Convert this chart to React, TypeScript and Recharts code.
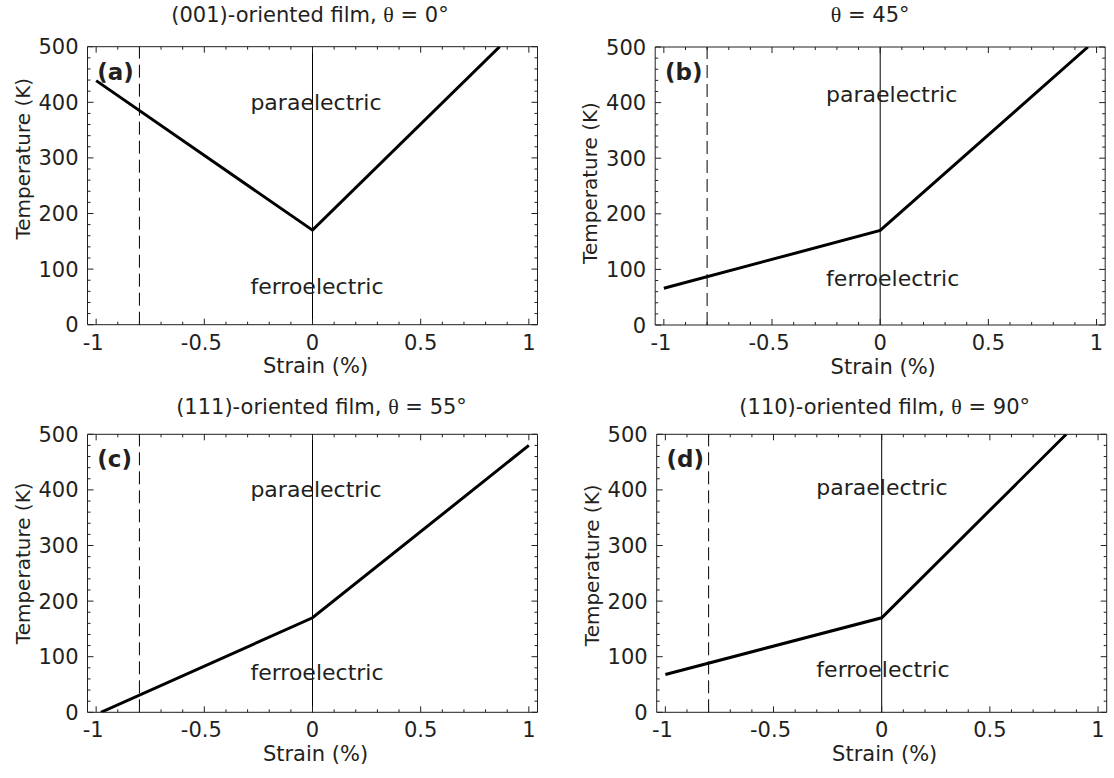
import React from 'react';
import { LineChart, Line, XAxis, YAxis, ReferenceLine, ReferenceArea, ReferenceDot } from 'recharts';

// ---------- data ----------
const xTicks = [-1, -0.9, -0.8, -0.7, -0.6, -0.5, -0.4, -0.3, -0.2, -0.1, 0, 0.1, 0.2, 0.3, 0.4, 0.5, 0.6, 0.7, 0.8, 0.9, 1];
const xMajorTicks = [-1, -0.5, 0, 0.5, 1];
const xTickLabels = ['-1', '-0.5', '0', '0.5', '1'];
const yTicks = [0, 20, 40, 60, 80, 100, 120, 140, 160, 180, 200, 220, 240, 260, 280, 300, 320, 340, 360, 380, 400, 420, 440, 460, 480, 500];
const yMajorTicks = [0, 100, 200, 300, 400, 500];
const yTickLabels = ['0', '100', '200', '300', '400', '500'];

const strainA = [-1, 0, 0.865];
const tempA = [439, 170, 500];
const strainB = [-1, 0, 0.96];
const tempB = [66, 170, 500];
const strainC = [-0.978, 0, 1];
const tempC = [0, 170, 480];
const strainD = [-1, 0, 0.853];
const tempD = [68, 170, 500];

const substrateStrain = -0.8;
const bulkStrain = 0;

const titlePrefixes = ['(001)-oriented film, ', '', '(111)-oriented film, ', '(110)-oriented film, '];
const titleSuffixes = [' = 0°', ' = 45°', ' = 55°', ' = 90°'];
const panelLetters = ['(a)', '(b)', '(c)', '(d)'];

// ---------- layout / style ----------
const FONT = '"DejaVu Sans", sans-serif';
const SERIF = '"Liberation Serif", "DejaVu Serif", serif';
const INK = '#231f20';
const X_DOMAIN: [number, number] = [-1.04, 1.04];
const Y_DOMAIN: [number, number] = [0, 500];
const CW = 557;
const CH = 389;
const PW = 450;
const PH = 278;
const YAXIS_W = 60;
const XAXIS_H = 40;

const panels = [
  { left: 0, top: 0, plotLeft: 87.5, plotTop: 46.7, titleDx: -2.5, titleY: 22, ylabShift: -27, strain: strainA, temp: tempA,
    paraX: -0.287, paraY: 386, ferroX: -0.287, ferroY: 56, letterY: 441 },
  { left: 557, top: 0, plotLeft: 98.2, plotTop: 47, titleDx: -10, titleY: 22, ylabShift: -3, strain: strainB, temp: tempB,
    paraX: -0.25, paraY: 401, ferroX: -0.25, ferroY: 71, letterY: 441 },
  { left: 0, top: 389, plotLeft: 87.5, plotTop: 45.3, titleDx: 9, titleY: 25, ylabShift: -10, strain: strainC, temp: tempC,
    paraX: -0.287, paraY: 388, ferroX: -0.287, ferroY: 58, letterY: 441 },
  { left: 557, top: 389, plotLeft: 99.7, plotTop: 45.3, titleDx: 3, titleY: 25, ylabShift: -8, strain: strainD, temp: tempD,
    paraX: -0.302, paraY: 391, ferroX: -0.302, ferroY: 64, letterY: 441 },
];

const findMajor = (list: number[], v: number) => list.findIndex((m) => Math.abs(m - v) < 1e-6);

const XTick = (props: any) => {
  const { x, y, payload } = props;
  const idx = findMajor(xMajorTicks, payload.value);
  const len = idx >= 0 ? 6 : 3;
  const shift = payload.value < 0 ? -3 : 0;
  return (
    <g>
      <line x1={x} y1={y} x2={x} y2={y - len} stroke={INK} strokeWidth={1} />
      <line x1={x} y1={y - PH} x2={x} y2={y - PH + len} stroke={INK} strokeWidth={1} />
      {idx >= 0 && (
        <text x={x + shift} y={y + 25} textAnchor="middle" fontFamily={FONT} fontSize={21} fill={INK}>
          {xTickLabels[idx]}
        </text>
      )}
    </g>
  );
};

const YTick = (props: any) => {
  const { x, y, payload } = props;
  const idx = findMajor(yMajorTicks, payload.value);
  const len = idx >= 0 ? 6 : 3;
  return (
    <g>
      <line x1={x} y1={y} x2={x + len} y2={y} stroke={INK} strokeWidth={1} />
      <line x1={x + PW} y1={y} x2={x + PW - len} y2={y} stroke={INK} strokeWidth={1} />
      {idx >= 0 && (
        <text x={x - 9} y={y} dy="0.36em" textAnchor="end" fontFamily={FONT} fontSize={21} fill={INK}>
          {yTickLabels[idx]}
        </text>
      )}
    </g>
  );
};

const textShape = (label: string, size: number, weight: string | number) => (p: any) => (
  <text x={p.cx} y={p.cy} fontFamily={FONT} fontSize={size} fontWeight={weight} fill={INK} style={{ whiteSpace: 'pre' }}>
    {label}
  </text>
);

function Panel({ i }: { i: number }) {
  const cfg = panels[i];
  const data = cfg.strain.map((s, k) => ({ strain: s, temp: cfg.temp[k] }));
  const margin = {
    top: cfg.plotTop,
    left: cfg.plotLeft - YAXIS_W,
    right: CW - cfg.plotLeft - PW,
    bottom: CH - cfg.plotTop - PH - XAXIS_H,
  };
  const cx = cfg.plotLeft + PW / 2;
  const ylx = cfg.plotLeft - 65;
  const yly = cfg.plotTop + PH / 2 + cfg.ylabShift;
  return (
    <div style={{ position: 'absolute', left: cfg.left, top: cfg.top, width: CW, height: CH }}>
      <LineChart width={CW} height={CH} data={data} margin={margin}>
        <XAxis
          type="number"
          dataKey="strain"
          domain={X_DOMAIN}
          ticks={xTicks}
          interval={0}
          allowDataOverflow
          tickSize={0}
          tickMargin={0}
          axisLine={false}
          tickLine={false}
          height={XAXIS_H}
          tick={<XTick />}
        />
        <YAxis
          type="number"
          domain={Y_DOMAIN}
          ticks={yTicks}
          interval={0}
          allowDataOverflow
          tickSize={0}
          tickMargin={0}
          axisLine={false}
          tickLine={false}
          width={YAXIS_W}
          tick={<YTick />}
        />
        <ReferenceArea x1={X_DOMAIN[0]} x2={X_DOMAIN[1]} y1={Y_DOMAIN[0]} y2={Y_DOMAIN[1]} fill="none" fillOpacity={0} stroke={INK} strokeWidth={1} strokeOpacity={1} />
        <ReferenceLine x={bulkStrain} stroke="#000" strokeWidth={1} />
        <ReferenceLine x={substrateStrain} stroke="#000" strokeWidth={1} strokeDasharray="13 6" />
        <Line type="linear" dataKey="temp" stroke="#000" strokeWidth={3} dot={false} isAnimationActive={false} />
        <ReferenceDot x={cfg.paraX} y={cfg.paraY} r={0} shape={textShape('paraelectric', 22, 'normal')} />
        <ReferenceDot x={cfg.ferroX} y={cfg.ferroY} r={0} shape={textShape('ferroelectric', 22, 'normal')} />
        <ReferenceDot x={-0.995} y={cfg.letterY} r={0} shape={textShape(panelLetters[i], 23, 'bold')} />
      </LineChart>
      <svg width={CW} height={CH} style={{ position: 'absolute', left: 0, top: 0, pointerEvents: 'none' }}>
        <text x={cx + cfg.titleDx} y={cfg.titleY} textAnchor="middle" fontFamily={FONT} fontSize={21} fill={INK} style={{ whiteSpace: 'pre' }}>
          {titlePrefixes[i]}
          <tspan fontFamily={SERIF} fontSize={22}>θ</tspan>
          {titleSuffixes[i]}
        </text>
        <text
          x={ylx}
          y={yly}
          dy="0.36em"
          textAnchor="middle"
          fontFamily={FONT}
          fontSize={20}
          fill={INK}
          transform={`rotate(-90 ${ylx} ${yly})`}
        >
          Temperature (K)
        </text>
        <text x={cx + 3} y={cfg.plotTop + PH + 48.5} textAnchor="middle" fontFamily={FONT} fontSize={21} fill={INK}>
          Strain (%)
        </text>
      </svg>
    </div>
  );
}

export default function App() {
  return (
    <div style={{ position: 'absolute', left: 0, top: 0, width: 1114, height: 778, background: '#fff', overflow: 'hidden' }}>
      <Panel i={0} />
      <Panel i={1} />
      <Panel i={2} />
      <Panel i={3} />
    </div>
  );
}
